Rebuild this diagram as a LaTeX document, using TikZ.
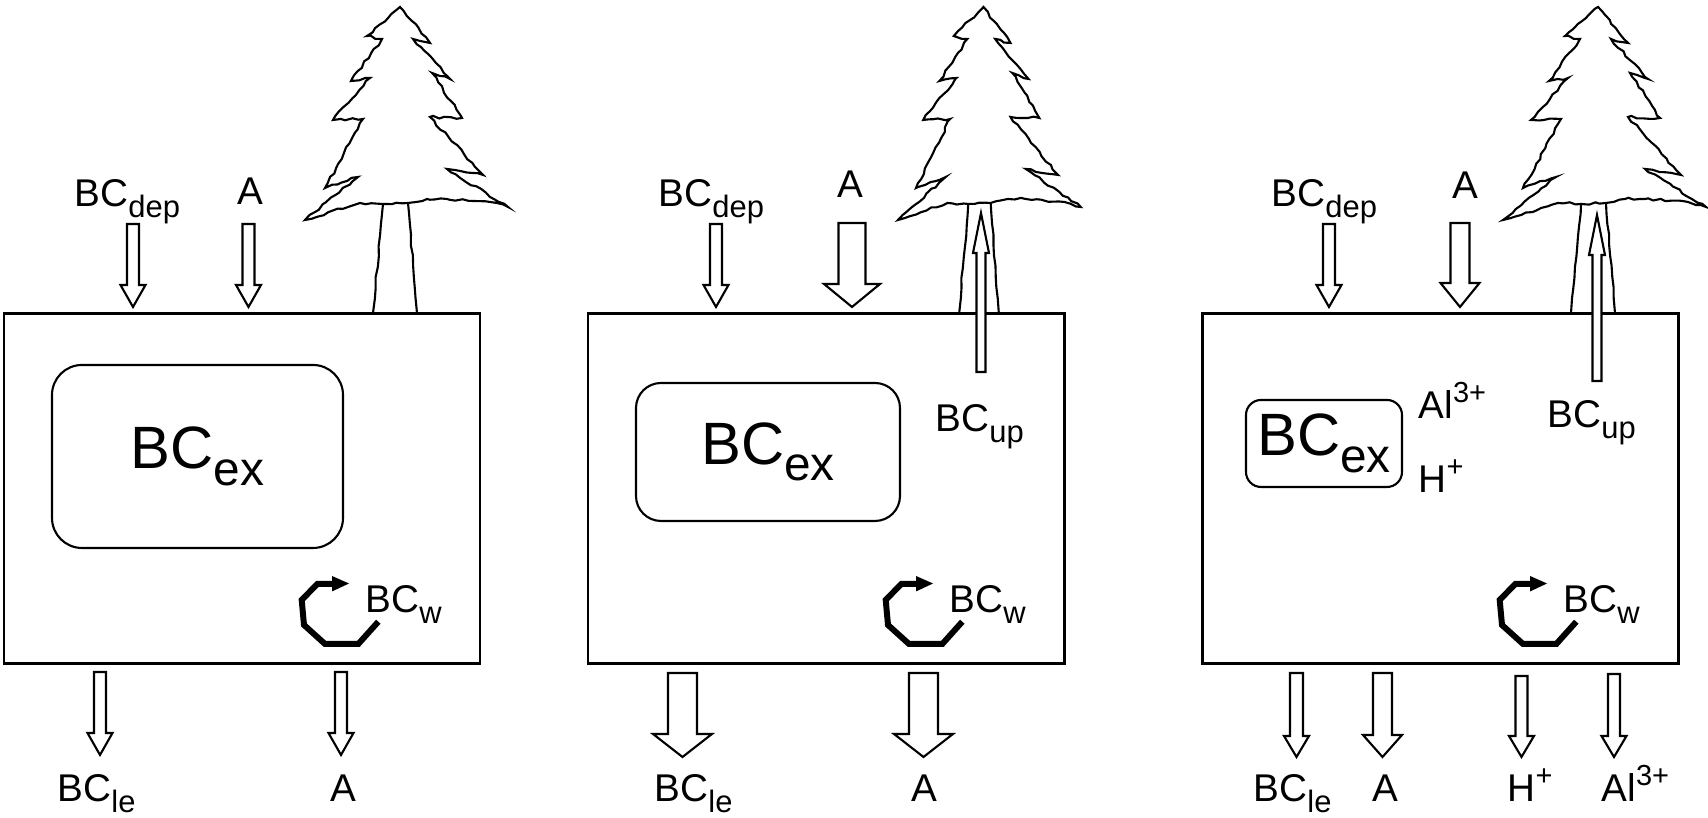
\documentclass[tikz,border=0pt]{standalone}
\usepackage{fontspec}
\setmainfont{Liberation Sans}
\usepackage{graphicx}
\usetikzlibrary{decorations.pathmorphing}

% index and charge on the pool / flux names
\newcommand\idx[1]{\raisebox{-0.28em}{\scalebox{0.8}{#1}}}
\newcommand\chg[1]{\raisebox{0.42em}{\scalebox{0.75}{#1}}}

\tikzset{
  lab/.style={inner sep=0pt, anchor=base west, font=\fontsize{11}{13}\selectfont},
  pool/.style={draw, rounded corners=0.3cm, line width=0.6pt, inner sep=0pt,
    font=\fontsize{17}{20}\selectfont},
  soil/.style={line width=0.85pt},
  % hollow block arrow, pointing down from its tail: length/half shaft/half head/head length
  pics/flux/.style args={#1/#2/#3/#4}{code={
    \draw[line width=0.6pt, fill=white] (-#2,0) -- (-#2,#4-#1) -- (-#3,#4-#1) -- (0,-#1)
      -- (#3,#4-#1) -- (#2,#4-#1) -- (#2,0) -- cycle;
  }},
  % spruce, origin at the foot of the trunk
  pics/pine/.style={code={
    \begin{scope}[line width=0.6pt,
        decoration={random steps, segment length=1.6pt, amplitude=0.35pt}]
      \draw[decorate] (0.05,3.07) -- (0.35,2.71) -- (0.18,2.75) -- (0.55,2.35) -- (0.37,2.41)
        -- (0.67,1.96) -- (0.35,1.97) -- (0.88,1.39) -- (0.52,1.45) -- (1.13,1.07)
        -- (0.95,1.12) -- (0.52,1.15) -- (0.32,1.15) -- (0.13,1.11) -- (-0.12,1.10)
        -- (-0.35,1.11) -- (-0.90,0.94) -- (-0.37,1.37) -- (-0.70,1.26) -- (-0.32,1.95)
        -- (-0.62,1.94) -- (-0.25,2.36) -- (-0.44,2.33) -- (-0.13,2.75) -- (-0.28,2.78)
        -- cycle;
      \draw[decorate, decoration={amplitude=0.2pt, segment length=3pt}]
        (-0.12,1.10) -- (-0.22,0.01);
      \draw[decorate, decoration={amplitude=0.2pt, segment length=3pt}]
        (0.13,1.11) -- (0.22,0.01);
    \end{scope}
  }},
  % weathering loop
  pics/cycle/.style={code={
    \draw[line width=1.7pt, line join=miter] (3.783,1.963) -- (3.583,1.74) -- (3.25,1.74)
      -- (3.04,1.93) -- (3.017,2.18) -- (3.173,2.34) -- (3.34,2.34);
    \fill (3.32,2.42) -- (3.49,2.345) -- (3.32,2.265) -- cycle;
  }},
}

\pgfmathsetseed{7}

\begin{document}
\begin{tikzpicture}
  \useasboundingbox (0,0) rectangle (17.08,8.18);

  % first panel
  \begin{scope}
    \pic at (3.95,5.04) {pine};
    \draw[soil] (0.04,1.54) rectangle (4.80,5.04);
    \node[pool, minimum width=2.91cm, minimum height=1.83cm] (ex1) at (1.975,3.615) {BC\idx{ex}};
    \pic {cycle};
    \node[lab] (w1) at (3.65,2.05) {BC\idx{w}};
    \node[lab] (dep1) at (0.74,6.11) {BC\idx{dep}};
    \node[lab, anchor=base] (ain1) at (2.50,6.13) {A};
    \pic at (1.33,5.94) {flux=0.83/0.06/0.125/0.22};
    \pic at (2.485,5.94) {flux=0.83/0.06/0.125/0.22};
    \pic at (1.00,1.46) {flux=0.83/0.06/0.125/0.22};
    \pic at (3.41,1.46) {flux=0.83/0.06/0.125/0.22};
    \node[lab] (le1) at (0.57,0.16) {BC\idx{le}};
    \node[lab, anchor=base] (aout1) at (3.43,0.16) {A};
  \end{scope}

  % second panel
  \begin{scope}[xshift=5.84cm]
    \pic[xscale=0.9] at (3.95,5.04) {pine};
    \draw[soil] (0.04,1.54) rectangle (4.80,5.04);
    \node[pool, rounded corners=0.25cm, minimum width=2.64cm, minimum height=1.38cm]
      (ex2) at (1.84,3.66) {BC\idx{ex}};
    \pic {cycle};
    \node[lab] (w2) at (3.65,2.05) {BC\idx{w}};
    \node[lab] (dep2) at (0.74,6.11) {BC\idx{dep}};
    \node[lab, anchor=base] (ain2) at (2.66,6.20) {A};
    \pic at (1.32,5.94) {flux=0.83/0.06/0.125/0.22};
    \pic at (2.68,5.95) {flux=0.84/0.135/0.28/0.23};
    \pic[rotate=180] at (3.97,4.46) {flux=1.59/0.045/0.08/0.40};
    \node[lab] (up2) at (3.51,3.86) {BC\idx{up}};
    \pic at (0.985,1.45) {flux=0.84/0.145/0.295/0.23};
    \pic at (3.395,1.45) {flux=0.84/0.145/0.295/0.23};
    \node[lab] (le2) at (0.70,0.16) {BC\idx{le}};
    \node[lab, anchor=base] (aout2) at (3.40,0.16) {A};
  \end{scope}

  % third panel
  \begin{scope}[xshift=11.98cm]
    \pic at (3.95,5.04) {pine};
    \draw[soil] (0.04,1.54) rectangle (4.80,5.04);
    \node[pool, rounded corners=0.15cm, minimum width=1.56cm, minimum height=0.87cm]
      (ex3) at (1.26,3.745) {BC\idx{ex}};
    \node[lab] (al3) at (2.20,3.99) {Al\chg{3+}};
    \node[lab] (h3) at (2.20,3.25) {H\chg{+}};
    \pic {cycle};
    \node[lab] (w3) at (3.65,2.05) {BC\idx{w}};
    \node[lab] (dep3) at (0.73,6.11) {BC\idx{dep}};
    \node[lab, anchor=base] (ain3) at (2.67,6.19) {A};
    \pic at (1.31,5.94) {flux=0.83/0.06/0.125/0.22};
    \pic at (2.62,5.95) {flux=0.84/0.095/0.195/0.24};
    \pic[rotate=180] at (3.99,4.37) {flux=1.66/0.045/0.08/0.40};
    \node[lab] (up3) at (3.49,3.90) {BC\idx{up}};
    \pic at (0.985,1.45) {flux=0.84/0.065/0.125/0.21};
    \pic at (1.845,1.45) {flux=0.84/0.095/0.195/0.22};
    \pic at (3.235,1.42) {flux=0.81/0.06/0.125/0.21};
    \pic at (4.16,1.44) {flux=0.83/0.06/0.125/0.21};
    \node[lab] (le3) at (0.55,0.16) {BC\idx{le}};
    \node[lab, anchor=base] (aout3) at (1.87,0.16) {A};
    \node[lab] (hout3) at (3.09,0.16) {H\chg{+}};
    \node[lab] (alout3) at (4.03,0.16) {Al\chg{3+}};
  \end{scope}
\end{tikzpicture}
\end{document}
